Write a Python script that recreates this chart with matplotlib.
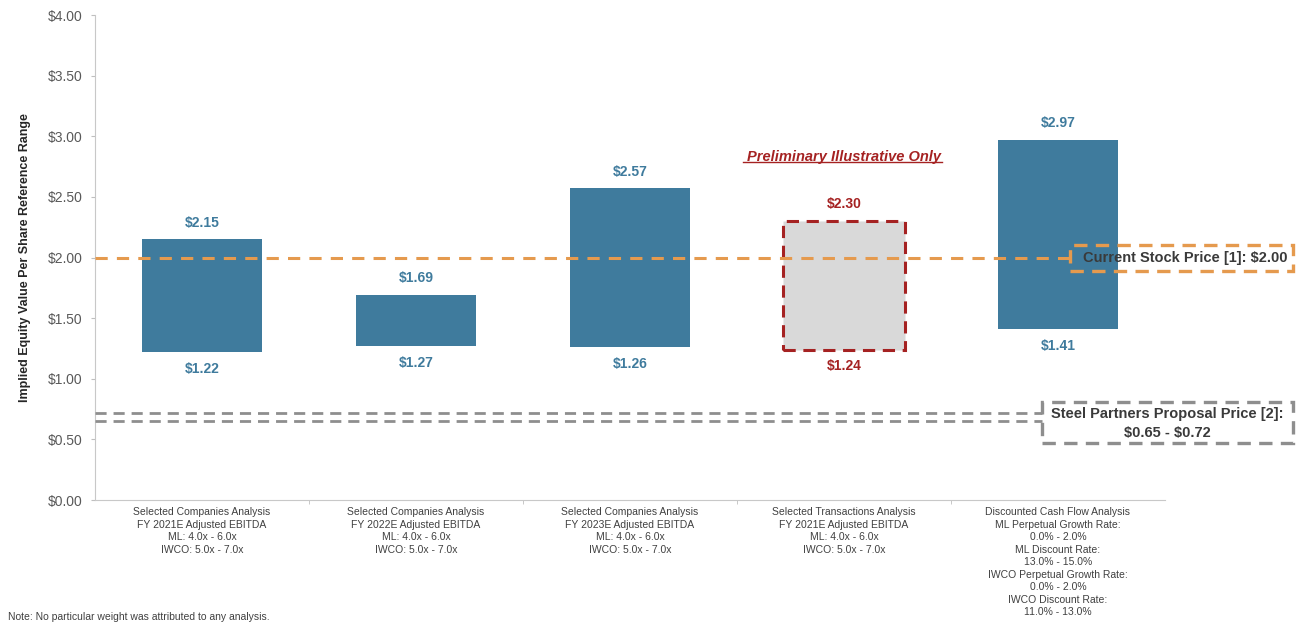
import matplotlib.pyplot as plt
from matplotlib.patches import Rectangle

plt.rcParams["font.family"] = ["Liberation Sans", "DejaVu Sans"]

# Valuation ranges per analysis
categories = [
    "Selected Companies Analysis\nFY 2021E Adjusted EBITDA\nML: 4.0x - 6.0x\nIWCO: 5.0x - 7.0x",
    "Selected Companies Analysis\nFY 2022E Adjusted EBITDA\nML: 4.0x - 6.0x\nIWCO: 5.0x - 7.0x",
    "Selected Companies Analysis\nFY 2023E Adjusted EBITDA\nML: 4.0x - 6.0x\nIWCO: 5.0x - 7.0x",
    "Selected Transactions Analysis\nFY 2021E Adjusted EBITDA\nML: 4.0x - 6.0x\nIWCO: 5.0x - 7.0x",
    "Discounted Cash Flow Analysis\nML Perpetual Growth Rate:\n0.0% - 2.0%\nML Discount Rate:\n13.0% - 15.0%\n"
    "IWCO Perpetual Growth Rate:\n0.0% - 2.0%\nIWCO Discount Rate:\n11.0% - 13.0%",
]
low = [1.22, 1.27, 1.26, 1.24, 1.41]
high = [2.15, 1.69, 2.57, 2.30, 2.97]
illustrative = [False, False, False, True, False]

stock_price = 2.00
proposal_low = 0.65
proposal_high = 0.72
yticks = [0, 0.5, 1.0, 1.5, 2.0, 2.5, 3.0, 3.5, 4.0]

blue = "#3F7B9D"
red = "#A52222"
orange = "#E59A4E"
grey = "#8E8E8E"

fig = plt.figure(figsize=(13.05, 6.23), dpi=100)
ax = fig.add_axes([0.0728, 0.1974, 0.8199, 0.7785])

x = list(range(len(categories)))
for i in x:
    h = high[i] - low[i]
    if illustrative[i]:
        ax.bar(i, h, bottom=low[i], width=0.57, color="#D9D9D9",
               edgecolor=red, linewidth=2.2, linestyle=(0, (4, 2.5)), zorder=3)
        col = red
    else:
        ax.bar(i, h, bottom=low[i], width=0.56, color=blue, zorder=3)
        col = blue
    ax.annotate(f"${high[i]:.2f}", (i, high[i]), xytext=(0, 7),
                textcoords="offset points", ha="center", va="bottom",
                fontsize=10, fontweight="bold", color=col)
    ax.annotate(f"${low[i]:.2f}", (i, low[i]), xytext=(0, -7),
                textcoords="offset points", ha="center", va="top",
                fontsize=10, fontweight="bold", color=col)

# Reference lines
box1_x0, box1_x1 = 4.056, 5.098
box2_x0 = 3.925
ax.plot([-0.5, box1_x0], [stock_price, stock_price], color=orange, lw=2.2,
        ls=(0, (4, 3)), zorder=4, clip_on=False)
for v in (proposal_high, proposal_low):
    ax.plot([-0.5, box2_x0], [v, v], color=grey, lw=2.0,
            ls=(0, (4, 2.5)), zorder=4, clip_on=False)

ax.add_patch(Rectangle((box1_x0, 1.889), box1_x1 - box1_x0, 0.214, fill=False,
                       edgecolor=orange, lw=2.4, ls=(0, (4, 2.5)),
                       clip_on=False, zorder=5))
ax.text((box1_x0 + box1_x1) / 2 + 0.02, stock_price, "Current Stock Price [1]: \\$2.00",
        ha="center", va="center", fontsize=10.5, fontweight="bold",
        color="#3A3A3A", zorder=6, clip_on=False)

ax.add_patch(Rectangle((box2_x0, 0.47), box1_x1 - box2_x0, 0.338, fill=False,
                       edgecolor=grey, lw=2.4, ls=(0, (4, 2.5)),
                       clip_on=False, zorder=5))
ax.text((box2_x0 + box1_x1) / 2, 0.635,
        "Steel Partners Proposal Price [2]:\n\\$0.65 - \\$0.72",
        ha="center", va="center", fontsize=10.5, fontweight="bold",
        color="#3A3A3A", linespacing=1.45, zorder=6, clip_on=False)

ax.text(3.0, 2.83, "Preliminary Illustrative Only", ha="center", va="center",
        fontsize=10.5, fontweight="bold", style="italic", color=red)
ax.plot([2.53, 3.46], [2.785, 2.785], color=red, lw=1.0, clip_on=False)

ax.set_xlim(-0.5, 4.5)
ax.set_ylim(0, 4)
ax.set_yticks(yticks)
ax.set_yticklabels([f"${v:.2f}" for v in yticks], fontsize=10, color="#595959")
ax.set_xticks(x)
ax.set_xticklabels(categories, fontsize=7.5, color="#404040", linespacing=1.32, va="top")
ax.set_xticks([i + 0.5 for i in x[:-1]], minor=True)
ax.tick_params(axis="x", which="major", length=0, pad=5)
ax.tick_params(axis="x", which="minor", length=3, color="#BFBFBF")
ax.tick_params(axis="y", length=3, color="#BFBFBF", pad=6)

for s in ("top", "right"):
    ax.spines[s].set_visible(False)
for s in ("left", "bottom"):
    ax.spines[s].set_color("#C8C8C8")

ax.set_ylabel("Implied Equity Value Per Share Reference Range", fontsize=9,
              fontweight="bold", color="#262626", labelpad=12)

fig.text(0.006, 0.001, "Note: No particular weight was attributed to any analysis.",
         fontsize=7.5, color="#404040", ha="left", va="bottom")

fig.savefig("out.png", dpi=100)
